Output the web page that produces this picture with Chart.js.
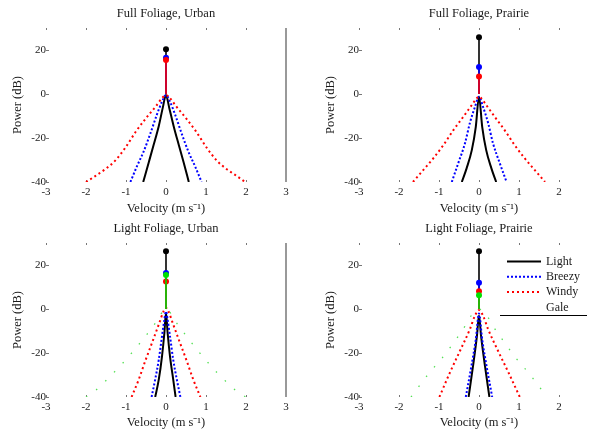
<!DOCTYPE html>
<html>
<head>
<meta charset="utf-8">
<script src="https://cdn.jsdelivr.net/npm/chart.js@4.4.1/dist/chart.umd.min.js"></script>
<style>
  html, body { margin: 0; padding: 0; background: #fff; }
  #wrap { position: relative; width: 597px; height: 429px; overflow: hidden; }
  canvas { position: absolute; }
</style>
</head>
<body>
<div id="wrap">
  <canvas id="p0" width="298" height="215" style="left:0;top:0"></canvas>
  <canvas id="p1" width="298" height="215" style="left:313px;top:0"></canvas>
  <canvas id="p2" width="298" height="214" style="left:0;top:215px"></canvas>
  <canvas id="p3" width="298" height="214" style="left:313px;top:215px"></canvas>
</div>
<script>
// series and axes
const seriesNames = ['Light', 'Breezy', 'Windy', 'Gale'];
const panelTitles = ['Full Foliage, Urban', 'Full Foliage, Prairie', 'Light Foliage, Urban', 'Light Foliage, Prairie'];
const xTicks = [-3, -2, -1, 0, 1, 2, 3];
const yTicks = [-40, -20, 0, 20];

// Full Foliage, Urban
const fuLightVel = [-0.57, -0.43, -0.31, -0.18, -0.08, 0, 0.08, 0.19, 0.32, 0.44, 0.57];
const fuLightPow = [-40, -31, -23.2, -14.5, -6.2, -0.5, -6.2, -14.5, -23.2, -31, -40];
const fuBreezyVel = [-0.89, -0.73, -0.56, -0.39, -0.23, -0.1, 0, 0.1, 0.23, 0.39, 0.56, 0.73, 0.89];
const fuBreezyPow = [-40, -33, -26.2, -17.9, -9.5, -3.5, -0.5, -3.5, -9.5, -17.9, -26.2, -33, -40];
const fuWindyVel = [-2, -1.77, -1.52, -1.27, -1.02, -0.75, -0.5, -0.25, -0.1, 0, 0.1, 0.25, 0.5, 0.75, 1.02, 1.27, 1.52, 1.77, 1.98];
const fuWindyPow = [-40, -37.3, -34.2, -30.3, -24.5, -17, -11, -5.5, -1.9, -0.5, -1.9, -5.5, -11, -17, -24.5, -30.3, -34.2, -37.3, -40];
const fuStem = [20.3, 16.5, 15.5];

// Full Foliage, Prairie
const fpLightVel = [-0.43, -0.31, -0.18, -0.08, 0, 0.08, 0.18, 0.31, 0.43];
const fpLightPow = [-40, -33.8, -25.5, -14.9, -1.2, -14.9, -25.5, -33.8, -40];
const fpBreezyVel = [-0.68, -0.52, -0.35, -0.23, -0.1, 0, 0.1, 0.23, 0.35, 0.52, 0.69];
const fpBreezyPow = [-40, -31.5, -22.4, -13.3, -5.8, -1.2, -5.8, -13.3, -22.4, -31.5, -40];
const fpWindyVel = [-1.65, -1.39, -1.14, -0.89, -0.64, -0.39, -0.18, -0.06, 0, 0.06, 0.18, 0.39, 0.64, 0.89, 1.14, 1.39, 1.65];
const fpWindyPow = [-40, -34.5, -29.2, -23.2, -16.4, -10.3, -5, -2, -1.2, -2, -5, -10.3, -16.4, -23.2, -29.2, -34.5, -40];
const fpStem = [25.8, 12.3, 7.9];

// Light Foliage, Urban
const luLightVel = [-0.27, -0.18, -0.1, -0.04, 0, 0.04, 0.1, 0.18, 0.24];
const luLightPow = [-40, -32, -21.5, -10.8, -1.7, -10.8, -21.5, -32, -40];
const luBreezyVel = [-0.36, -0.27, -0.18, -0.1, -0.04, 0, 0.04, 0.1, 0.18, 0.27, 0.36];
const luBreezyPow = [-40, -32, -23, -12.4, -4.8, -1, -4.8, -12.4, -23, -32, -40];
const luWindyVel = [-0.86, -0.68, -0.52, -0.35, -0.18, -0.06, 0, 0.06, 0.18, 0.35, 0.52, 0.68, 0.86];
const luWindyPow = [-40, -32, -23.7, -15.4, -7, -1, 0.5, -1, -7, -15.4, -23.7, -32, -40];
const luGaleVel = [-2, -1.83, -1.6, -1.38, -1.1, -0.85, -0.53, -0.25, 0, 0.25, 0.53, 0.8, 1.07, 1.28, 1.62, 1.84, 2];
const luGalePow = [-40, -38, -34.3, -30.3, -25, -19.8, -12.8, -6, 0, -6, -12.8, -19, -24.8, -29, -35, -38.4, -40];
const luStem = [26.3, 16.4, 12.5, 15.4];

// Light Foliage, Prairie
const lpLightVel = [-0.26, -0.15, -0.05, 0, 0.05, 0.15, 0.26];
const lpLightPow = [-40, -26, -12, -3, -12, -26, -40];
const lpBreezyVel = [-0.33, -0.19, -0.08, 0, 0.08, 0.19, 0.33];
const lpBreezyPow = [-40, -26, -13.9, -2, -13.9, -26, -40];
const lpWindyVel = [-0.99, -0.73, -0.48, -0.23, -0.1, 0, 0.1, 0.23, 0.48, 0.74, 1.02];
const lpWindyPow = [-40, -29, -19.2, -9.3, -3, -0.5, -3, -9.3, -19.2, -29, -40];
const lpGaleVel = [-1.7, -1.24, -0.9, -0.47, 0, 0.47, 0.9, 1.26, 1.7];
const lpGalePow = [-40, -29, -21.8, -11.2, 0, -11, -21.8, -29.5, -40];
const lpStem = [26.3, 11.9, 8.1, 6.3];

const FONT = 'Liberation Serif, Times New Roman, serif';
const TEXT = '#1a1a1a';
const lineStyles = [
  { color: '#000000', width: 2, dash: [] },
  { color: '#0000ff', width: 2, dash: [2, 2] },
  { color: '#ff0000', width: 2, dash: [2, 3] },
  { color: '#55e055', width: 1.3, dash: [1.5, 11] }
];
const stemColors = ['#000000', '#0000ff', '#ff0000', '#00e000'];

// small inward ticks + grey line at the right edge (matlab look)
const frame = {
  id: 'frame',
  beforeDatasetsDraw(chart) {
    const { ctx, chartArea: a, scales: { x, y } } = chart;
    ctx.save();
    ctx.strokeStyle = '#777';
    ctx.lineWidth = 1;
    ctx.beginPath();
    xTicks.forEach(v => {
      const px = Math.round(x.getPixelForValue(v)) + 0.5;
      ctx.moveTo(px, a.top); ctx.lineTo(px, a.top + 2);
      ctx.moveTo(px, a.bottom); ctx.lineTo(px, a.bottom - 2);
    });
    yTicks.forEach(v => {
      const py = Math.round(y.getPixelForValue(v)) + 0.5;
      ctx.moveTo(a.left, py); ctx.lineTo(a.left + 3, py);
    });
    ctx.stroke();
    ctx.strokeStyle = '#999';
    ctx.lineWidth = 2;
    ctx.beginPath();
    const rx = x.getPixelForValue(3);
    ctx.moveTo(rx, a.top); ctx.lineTo(rx, a.bottom);
    ctx.stroke();
    ctx.restore();
  }
};

const legendBox = {
  id: 'legendBox',
  afterDraw(chart) {
    if (!chart.options.plugins.legendBox.show) return;
    const { ctx, chartArea: a } = chart;
    ctx.save();
    ctx.font = '12px ' + FONT;
    ctx.textBaseline = 'middle';
    ctx.fillStyle = TEXT;
    seriesNames.forEach((name, i) => {
      const yy = a.top + 18.5 + 15.3 * i;
      const st = lineStyles[i];
      if (i < 3) {
        ctx.strokeStyle = st.color;
        ctx.lineWidth = st.width;
        ctx.setLineDash(st.dash);
        ctx.beginPath();
        ctx.moveTo(a.right - 92, yy); ctx.lineTo(a.right - 58, yy);
        ctx.stroke();
      }
      ctx.fillText(name, a.right - 53, yy);
    });
    ctx.setLineDash([]);
    ctx.strokeStyle = '#000';
    ctx.lineWidth = 1;
    ctx.beginPath();
    ctx.moveTo(a.right - 99, a.top + 72.5); ctx.lineTo(a.right - 12, a.top + 72.5);
    ctx.stroke();
    ctx.restore();
  }
};

function makePanel(id, title, curves, stems, xAxisH, rightCol, showLegend) {
  const datasets = [];
  curves.forEach((c, i) => {
    const st = lineStyles[i];
    datasets.push({
      label: seriesNames[i],
      data: c[0].map((v, k) => ({ x: v, y: c[1][k] })),
      showLine: true,
      cubicInterpolationMode: 'monotone',
      borderColor: st.color,
      borderWidth: st.width,
      borderDash: st.dash,
      pointRadius: 0,
      order: 30 - datasets.length
    });
  });
  stems.forEach((v, i) => {
    datasets.push({
      label: seriesNames[i] + ' peak',
      data: [{ x: 0, y: 0 }, { x: 0, y: v }],
      showLine: true,
      borderColor: stemColors[i],
      borderWidth: 1.6,
      pointRadius: [0, 3],
      pointBackgroundColor: stemColors[i],
      pointBorderWidth: 0,
      order: 30 - datasets.length
    });
  });

  new Chart(document.getElementById(id), {
    type: 'scatter',
    data: { datasets },
    options: {
      responsive: false,
      animation: false,
      layout: { padding: { left: 0, right: 12, top: 0, bottom: 0 } },
      plugins: {
        legend: { display: false },
        tooltip: { enabled: false },
        title: {
          display: true, text: title, fullSize: false, color: TEXT,
          font: { family: FONT, size: 12.5, weight: 'normal' },
          padding: { top: 6.5, bottom: 6.5 }
        },
        legendBox: { show: showLegend }
      },
      scales: {
        x: {
          type: 'linear', min: -3, max: 3,
          afterBuildTicks: s => { s.ticks = xTicks.map(v => ({ value: v })); },
          afterFit: s => { s.height = xAxisH; },
          grid: { display: false, drawTicks: false },
          border: { display: false },
          ticks: {
            color: TEXT, font: { family: FONT, size: 11 }, padding: 4, maxRotation: 0, autoSkip: false,
            // the last label of the right column falls off the page edge
            callback: v => (rightCol && v === 3) ? '' : String(v)
          },
          title: { display: true, text: 'Velocity (m s\u207B\u00B9)', color: TEXT, font: { family: FONT, size: 12.5 }, padding: { top: 0, bottom: -1 } }
        },
        y: {
          type: 'linear', min: -40, max: 30,
          afterBuildTicks: s => { s.ticks = yTicks.map(v => ({ value: v })); },
          afterFit: s => { s.width = 46; },
          grid: { display: false, drawTicks: false },
          border: { display: false },
          ticks: { color: TEXT, font: { family: FONT, size: 11 }, padding: 0 },
          title: { display: true, text: 'Power (dB)', color: TEXT, font: { family: FONT, size: 12.5 }, padding: { top: 10, bottom: 0 } }
        }
      }
    },
    plugins: [frame, legendBox]
  });
}

makePanel('p0', panelTitles[0],
  [[fuLightVel, fuLightPow], [fuBreezyVel, fuBreezyPow], [fuWindyVel, fuWindyPow]], fuStem, 33, false, false);
makePanel('p1', panelTitles[1],
  [[fpLightVel, fpLightPow], [fpBreezyVel, fpBreezyPow], [fpWindyVel, fpWindyPow]], fpStem, 33, true, false);
makePanel('p2', panelTitles[2],
  [[luLightVel, luLightPow], [luBreezyVel, luBreezyPow], [luWindyVel, luWindyPow], [luGaleVel, luGalePow]], luStem, 32, false, false);
makePanel('p3', panelTitles[3],
  [[lpLightVel, lpLightPow], [lpBreezyVel, lpBreezyPow], [lpWindyVel, lpWindyPow], [lpGaleVel, lpGalePow]], lpStem, 32, true, true);
</script>
</body>
</html>
